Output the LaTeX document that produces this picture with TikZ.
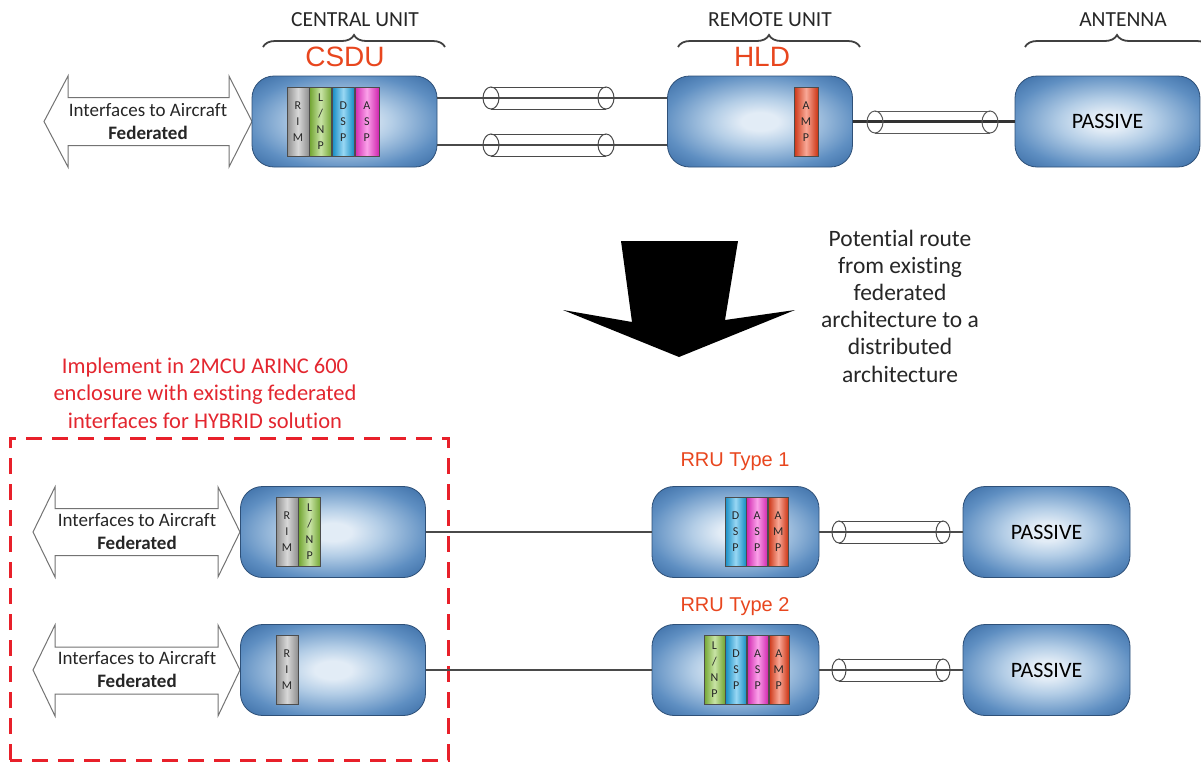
\documentclass[tikz,border=0pt]{standalone}
\usepackage{fontspec}
\setmainfont{Carlito}[Ligatures={NoCommon}]
\newfontfamily\arialf{Liberation Sans}
\usetikzlibrary{decorations.pathreplacing}
\definecolor{boxouter}{HTML}{3769A2}
\definecolor{boxmid}{HTML}{5F8FC2}
\definecolor{boxlight}{HTML}{B3CDE6}
\definecolor{boxinner}{HTML}{E2ECF6}
\definecolor{boxborder}{HTML}{2E5078}
\definecolor{labred}{HTML}{E8461E}
\definecolor{notered}{HTML}{E3262F}
\definecolor{dashred}{HTML}{E8202A}
\definecolor{wiregray}{HTML}{4A4A4A}
\definecolor{rimc}{HTML}{A8A8A8}
\definecolor{lnpc}{HTML}{86C23A}
\definecolor{dspc}{HTML}{1AA6E6}
\definecolor{aspc}{HTML}{F52ECE}
\definecolor{ampc}{HTML}{F03E18}
\pgfdeclareradialshading{unitshade}{\pgfpoint{0bp}{0bp}}{color(0bp)=(boxinner); color(5bp)=(boxinner); color(13bp)=(boxlight); color(26bp)=(boxmid); color(36bp)=(boxouter); color(50bp)=(boxouter)}
\newcommand\cablecyl[6][wiregray]{%
  \draw[#1, line width=1pt] (#2,#4-#6) -- (#3,#4-#6) (#2,#4+#6) -- (#3,#4+#6);
  \draw[#1, line width=1pt] (#2,#4) ellipse [x radius=#5, y radius=#6];
  \draw[#1, line width=1pt] (#3,#4) ellipse [x radius=#5, y radius=#6];}
\begin{document}
\begin{tikzpicture}[x=1pt,y=-1pt,
  unit/.style={draw=boxborder, line width=0.8pt, rounded corners=22pt, shading=unitshade, shade, minimum width=#1, minimum height=91pt, inner sep=0pt, font=\fontsize{22}{26}\selectfont},
  unit/.default=185pt,
  mod/.style={draw=black!70, line width=0.6pt, minimum width=22pt, minimum height=69pt, inner sep=0pt, align=center, font=\fontsize{12}{16}\selectfont, text=black!85, left color=#1!85!black, right color=#1!85!black, middle color=#1!45!white},
  wire/.style={draw=wiregray, line width=1.6pt},
  thickwire/.style={draw=black!80, line width=3.6pt},
  bracel/.style={draw=black!75, line width=1.8pt, decorate, decoration={brace, amplitude=12pt}},
  caplab/.style={font=\fontsize{21.5}{26}\selectfont, text=black!85},
  redlab/.style={font=\arialf\fontsize{28}{32}\selectfont, text=labred},
  rrulab/.style={font=\arialf\fontsize{20}{24}\selectfont, text=labred},
  ifarrow/.style={draw=black!55, line width=1pt, fill=white},
  iftext/.style={align=center, font=\fontsize{19}{23}\selectfont, text=black!85},
]
\useasboundingbox (0,0) rectangle (1201,761);
\clip (0,0) rectangle (1201,761);

% ---------- top row ----------
\draw[ifarrow] (44,121.5) -- (68,76) -- (68,97.5) -- (229,97.5) -- (229,76) -- (252,121.5) -- (229,167) -- (229,145.5) -- (68,145.5) -- (68,167) -- cycle;
\node[iftext] (if1) at (148,121.5) {Interfaces to Aircraft\\\textbf{Federated}};

\node[unit] (csdu) at (344.5,121.5) {};
\node[mod=rimc] (c1) at (298,121.5) {R\\I\\M};
\node[mod=lnpc, anchor=west] (c2) at (c1.east) {L\\/\\N\\P};
\node[mod=dspc, anchor=west] (c3) at (c2.east) {D\\S\\P};
\node[mod=aspc, anchor=west, minimum width=24pt] (c4) at (c3.east) {A\\S\\P};

\node[unit] (hld) at (760,121.5) {};
\node[mod=ampc, minimum width=24pt] (h1) at (806,121.5) {A\\M\\P};

\node[unit] (pas0) at (1107.5,121.5) {PASSIVE};

\draw[wire] ([yshift=23.5pt]csdu.east) -- ([yshift=23.5pt]hld.west);
\draw[wire] ([yshift=-23.5pt]csdu.east) -- ([yshift=-23.5pt]hld.west);
\draw[thickwire] (hld.east) -- (pas0.west);
\cablecyl{491}{606}{98}{8}{11}
\cablecyl{491}{606}{145}{8}{11}
\cablecyl[black!65]{875}{990}{122}{8}{11}

\draw[bracel] (263,47) -- coordinate (b1) (445,47);
\draw[bracel] (678,47) -- coordinate (b2) (860,47);
\draw[bracel] (1025,47) -- coordinate (b3) (1209,47);
\node[caplab] (cu) at (355,20) {CENTRAL UNIT};
\node[caplab] (ru) at (770,20) {REMOTE UNIT};
\node[caplab] (an) at (1123,20) {ANTENNA};
\node[redlab] (csdulab) at (345,57) {CSDU};
\node[redlab] (hldlab) at (762,57) {HLD};

% ---------- big arrow and note ----------
\fill[black] (621,241) -- (738,241) -- (725,320) -- (795,310) -- (679,357) -- (563,310) -- (632,322) -- cycle;
\node[align=center, font=\fontsize{23.5}{27.2}\selectfont, text=black!85] (note) at (900,306)
  {Potential route\\from existing\\federated\\architecture to a\\distributed\\architecture};

% ---------- hybrid enclosure ----------
\node[align=center, font=\fontsize{22.5}{27.5}\selectfont, text=notered] (impl) at (205,393)
  {Implement in 2MCU ARINC 600\\enclosure with existing federated\\interfaces for HYBRID solution};
\draw[dashred, line width=3pt, dash pattern=on 16pt off 10pt] (10,760) -- (10,438) -- (448,438) -- (448,760) -- cycle;

% ---------- bottom row 1 ----------
\draw[ifarrow] (33,532) -- (55,487) -- (55,508.5) -- (218,508.5) -- (218,487) -- (240,532) -- (218,577) -- (218,555.5) -- (55,555.5) -- (55,577) -- cycle;
\node[iftext] (if2) at (137,532) {Interfaces to Aircraft\\\textbf{Federated}};
\node[unit] (u1) at (333,532) {};
\node[mod=rimc] (u1a) at (287,532) {R\\I\\M};
\node[mod=lnpc, anchor=west] (u1b) at (u1a.east) {L\\/\\N\\P};

\node[unit=167pt] (rru1) at (735.5,532) {};
\node[mod=dspc, minimum width=21pt] (r1a) at (735.5,532) {D\\S\\P};
\node[mod=aspc, minimum width=21pt, anchor=west] (r1b) at (r1a.east) {A\\S\\P};
\node[mod=ampc, minimum width=20pt, anchor=west] (r1c) at (r1b.east) {A\\M\\P};
\node[unit=167pt] (pas1) at (1046.5,532) {PASSIVE};
\node[rrulab] (rru1lab) at (735,462) {RRU Type 1};

\draw[wire] (u1.east) -- (rru1.west);
\draw[wire] (rru1.east) -- (pas1.west);
\cablecyl{839}{943}{532}{7}{11}

% ---------- bottom row 2 ----------
\draw[ifarrow] (33,670) -- (55,625) -- (55,647) -- (218,647) -- (218,625) -- (240,670) -- (218,716) -- (218,694) -- (55,694) -- (55,716) -- cycle;
\node[iftext] (if3) at (137,670) {Interfaces to Aircraft\\\textbf{Federated}};
\node[unit] (u2) at (333,670) {};
\node[mod=rimc] (u2a) at (287,670) {R\\I\\M};

\node[unit=167pt] (rru2) at (735.5,670) {};
\node[mod=lnpc, minimum width=21pt] (r2a) at (714.5,670) {L\\/\\N\\P};
\node[mod=dspc, minimum width=21pt, anchor=west] (r2b) at (r2a.east) {D\\S\\P};
\node[mod=aspc, minimum width=21pt, anchor=west] (r2c) at (r2b.east) {A\\S\\P};
\node[mod=ampc, minimum width=20pt, anchor=west] (r2d) at (r2c.east) {A\\M\\P};
\node[unit=167pt] (pas2) at (1046.5,670) {PASSIVE};
\node[rrulab] (rru2lab) at (735,607) {RRU Type 2};

\draw[wire] (u2.east) -- (rru2.west);
\draw[wire] (rru2.east) -- (pas2.west);
\cablecyl{839}{943}{670}{7}{11}
\end{tikzpicture}
\end{document}
